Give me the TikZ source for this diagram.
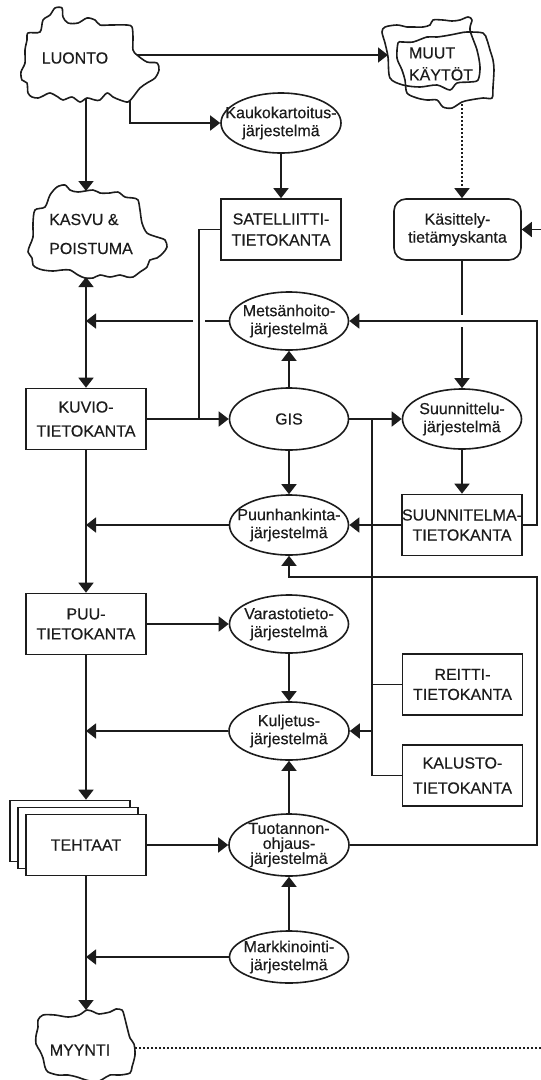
\documentclass[tikz,border=0pt]{standalone}
\usepackage{fontspec}
\setmainfont{Liberation Sans}
\newfontfamily\diagfont{Liberation Sans}[FakeBold=0.35]
\usetikzlibrary{arrows.meta,shapes.geometric}
\definecolor{ink}{HTML}{1C1C1C}
\begin{document}
\begin{tikzpicture}[x=1pt,y=-1pt,
  conn/.style={draw=ink, line width=1.6pt},
  arr/.style={conn, -{Triangle[length=10pt,width=15pt]}},
  darr/.style={conn, {Triangle[length=10pt,width=15pt]}-{Triangle[length=10pt,width=15pt]}},
  dotline/.style={draw=ink, line width=1.6pt, dash pattern=on 1.6pt off 2.4pt},
  txt/.style={align=center, inner sep=0pt, text=ink, font=\diagfont\fontsize{16}{19}\selectfont},
  sysell/.style={draw=ink, line width=1.6pt, ellipse, inner sep=0pt,
                 minimum width=119pt, minimum height=60pt},
  dbbox/.style={draw=ink, line width=1.6pt, rectangle, inner sep=0pt, fill=white,
                minimum width=120pt, minimum height=61pt},
  kbox/.style={dbbox, rounded corners=12pt, minimum width=127pt},
  cloudline/.style={draw=ink, line width=1.6pt, line join=round, fill=white},
]
\useasboundingbox[fill=white] (0,0) rectangle (541,1080);

% ---------- cloud outlines ----------
\draw[cloudline] plot[smooth cycle, tension=0.5] coordinates {
 (28,33) (40,32) (43,20) (50,15) (55,8) (62,8) (63,17) (68,23) (78,23) (87,18)
 (95,20) (100,25) (110,25) (127,25) (132,27) (133,37) (133,50) (137,55) (147,62)
 (157,63) (159,70) (155,78) (147,83) (140,88) (133,97) (128,102) (120,100)
 (113,97) (107,93) (100,100) (95,100) (87,98) (80,102) (72,97) (63,100) (58,97)
 (50,93) (43,96) (38,98) (32,97) (28,93) (27,83) (22,80) (21,72) (25,63) (25,50) (27,40)};
\draw[cloudline] plot[smooth cycle, tension=0.5] coordinates {
 (35,210) (45,207) (50,195) (57,187) (65,185) (70,190) (78,192) (93,190) (100,193)
 (110,193) (118,192) (125,197) (133,198) (138,200) (140,210) (142,223) (147,233)
 (157,237) (165,240) (167,247) (163,253) (157,258) (150,260) (147,267) (140,272)
 (133,277) (127,277) (120,275) (110,277) (100,275) (93,278) (85,278) (78,275)
 (70,270) (62,270) (53,271) (43,270) (37,268) (33,265) (32,258) (28,252) (30,245)
 (33,237) (33,223)};
\draw[cloudline, fill=none] plot[smooth cycle, tension=0.5] coordinates {
 (382,32) (385,27) (397,25) (407,27) (413,27) (423,27) (430,25) (433,20) (443,20)
 (452,21) (460,20) (468,17) (472,20) (470,30) (477,50) (480,67) (478,80) (470,82)
 (457,83) (450,90) (437,85) (420,87) (403,85) (390,78) (388,57) (385,43)};
\draw[cloudline, fill=none] plot[smooth cycle, tension=0.5] coordinates {
 (398,43) (402,42) (413,42) (427,37) (437,37) (450,35) (460,33) (467,32) (483,33)
 (487,40) (490,50) (493,60) (494,70) (493,87) (492,98) (483,98) (470,100)
 (462,102) (452,108) (443,107) (437,100) (427,100) (417,98) (407,93) (405,80)
 (402,70) (397,58)};
\draw[cloudline] plot[smooth cycle, tension=0.5] coordinates {
 (38,1020) (43,1015) (55,1015) (68,1017) (79,1015) (87,1010) (94,1012) (99,1014)
 (110,1012) (116,1009) (122,1010) (124,1015) (127,1027) (130,1038) (134,1044)
 (135,1055) (132,1067) (130,1073) (120,1075) (110,1075) (103,1079) (96,1082)
 (86,1080) (77,1077) (68,1075) (58,1075) (48,1072) (45,1067) (43,1058) (40,1051)
 (36,1044) (36,1036) (38,1027)};

% ---------- cloud texts and their attachment points ----------
\node[txt] (luonto) at (75,58) {LUONTO};
\node[txt, align=left, font=\diagfont\fontsize{16}{22}\selectfont] (muut) at (441,64) {MUUT\\KÄYTÖT};
\node[txt, align=left, font=\diagfont\fontsize{16}{29}\selectfont] (kasvu) at (91,234) {KASVU \&\\POISTUMA};
\node[txt] (myynti) at (80,1050) {MYYNTI};
\coordinate (luonto-e) at (137,55);
\coordinate (luonto-s) at (86,99);
\coordinate (luonto-se) at (130,101);
\coordinate (muut-w) at (388,55);
\coordinate (muut-s) at (462,104);
\coordinate (kasvu-n) at (86,191);
\coordinate (kasvu-s) at (86,277);
\coordinate (myynti-n) at (86,1010);
\coordinate (myynti-e) at (135,1048);
\coordinate (rim) at (541,0);

% ---------- systems (ellipses) ----------
\node[sysell, minimum width=120pt, label={[txt, font=\diagfont\fontsize{16}{18}\selectfont]center:Kaukokartoitus-\\järjestelmä}] (kauko) at (281,123) {};
\node[sysell, minimum height=58pt, label={[txt, font=\diagfont\fontsize{16}{18}\selectfont]center:Metsänhoito-\\järjestelmä}] (mets) at (289,321) {};
\node[sysell, minimum height=62pt, label={[txt]center:GIS}] (gis) at (289,419) {};
\node[sysell, label={[txt, font=\diagfont\fontsize{16}{18}\selectfont]center:Suunnittelu-\\järjestelmä}] (suun) at (462,419) {};
\node[sysell, label={[txt, font=\diagfont\fontsize{16}{18}\selectfont]center:Puunhankinta-\\järjestelmä}] (puun) at (289,525) {};
\node[sysell, minimum height=58pt, label={[txt, font=\diagfont\fontsize{16}{18}\selectfont]center:Varastotieto-\\järjestelmä}] (vara) at (289,624) {};
\node[sysell, minimum width=120pt, minimum height=58pt, label={[txt, font=\diagfont\fontsize{16}{18}\selectfont]center:Kuljetus-\\järjestelmä}] (kulj) at (289,731) {};
\node[sysell, minimum width=120pt, minimum height=62pt, label={[txt, font=\diagfont\fontsize{16}{15}\selectfont]center:Tuotannon-\\ohjaus-\\järjestelmä}] (tuot) at (289,845) {};
\node[sysell, minimum height=52pt, label={[txt, font=\diagfont\fontsize{16}{18}\selectfont]center:Markkinointi-\\järjestelmä}] (mark) at (289,957) {};

% ---------- databases (boxes) ----------
\node[dbbox, label={[txt, font=\diagfont\fontsize{16}{21}\selectfont]center:SATELLIITTI-\\TIETOKANTA}] (sat) at (281,229.5) {};
\node[kbox, label={[txt, font=\diagfont\fontsize{16}{18}\selectfont]center:Käsittely-\\tietämyskanta}] (kas) at (457.5,229.5) {};
\node[dbbox, label={[txt, font=\diagfont\fontsize{16}{24}\selectfont]center:KUVIO-\\TIETOKANTA}] (kuvio) at (86,419) {};
\node[dbbox, label={[txt, font=\diagfont\fontsize{16}{20}\selectfont]center:SUUNNITELMA-\\TIETOKANTA}] (suunt) at (462,525) {};
\node[dbbox, label={[txt, font=\diagfont\fontsize{16}{20}\selectfont]center:PUU-\\TIETOKANTA}] (puu) at (86,624) {};
\node[dbbox, label={[txt, font=\diagfont\fontsize{16}{20}\selectfont]center:REITTI-\\TIETOKANTA}] (reitti) at (462.5,684.5) {};
\node[dbbox, label={[txt, font=\diagfont\fontsize{16}{25}\selectfont]center:KALUSTO-\\TIETOKANTA}] (kalusto) at (462.5,775.5) {};
% stack of factory boxes
\node[dbbox] (teh3) at (70,831) {};
\node[dbbox] (teh2) at (78,838) {};
\node[dbbox, label={[txt]center:TEHTAAT}] (tehtaat) at (86,845) {};

% ---------- junction points ----------
\coordinate (sbus) at (199,419);
\coordinate (bus) at (372,419);
\coordinate (rbus) at (537,525);
\coordinate (rbus2) at (537,577);

% ---------- connectors ----------
\draw[arr] (luonto-e) -- (muut-w);
\draw[arr] (luonto-se) |- (kauko.west);
\draw[arr] (luonto-s) -- (kasvu-n);
\draw[dotline, -{Triangle[length=10pt,width=15pt]}] (muut-s) -- (muut-s |- kas.north);
\draw[arr] (kauko.south) -- (sat.north);
\draw[conn] (sat.west) -| (sbus);
\draw[darr] (kasvu-s) -- (kuvio.north);
\draw[conn] (mets.west) -- ([xshift=6pt]sbus |- mets.west);
\draw[arr] ([xshift=-6pt]sbus |- mets.west) -- (kuvio |- mets.west);
\draw[arr] (kuvio.east) -- (gis.west);
\draw[arr] (gis.north) -- (mets.south);
\draw[arr] (gis.east) -- (suun.west);
\draw[conn] (bus) -- (bus |- kalusto.west) -- (kalusto.west);
\draw[conn] (bus |- reitti.west) -- (reitti.west);
\draw[arr] (bus |- kulj.east) -- (kulj.east);
\draw[conn] (suun.north |- kas.south) -- ([yshift=6pt]suun.north |- mets.east);
\draw[arr] ([yshift=-6pt]suun.north |- mets.east) -- (suun.north);
\draw[arr] (suun.south) -- (suunt.north);
\draw[arr] (gis.south) -- (puun.north);
\draw[arr] (suunt.west) -- (puun.east);
\draw[arr] (suunt.east) -| (rbus |- mets.east) -- (mets.east);
\draw[arr] (puun.west) -- (kuvio |- puun.west);
\draw[arr] (kuvio.south) -- (puu.north);
\draw[arr] (puu.east) -- (vara.west);
\draw[arr] (vara.south) -- (kulj.north);
\draw[arr] (kulj.west) -- (kuvio |- kulj.west);
\draw[arr] (puu.south) -- (teh3.north -| puu.south);
\draw[arr] (tehtaat.east) -- (tuot.west);
\draw[arr] (tuot.north) -- (kulj.south);
\draw[arr] (tuot.east) -| (rbus2) -| (puun.south);
\draw[arr] (mark.north) -- (tuot.south);
\draw[arr] (mark.west) -- (kuvio |- mark.west);
\draw[arr] (tehtaat.south) -- (myynti-n);
\draw[dotline] (myynti-e) -- (myynti-e -| rim);
\draw[arr] (kas.east -| rim) -- (kas.east);
\end{tikzpicture}
\end{document}
